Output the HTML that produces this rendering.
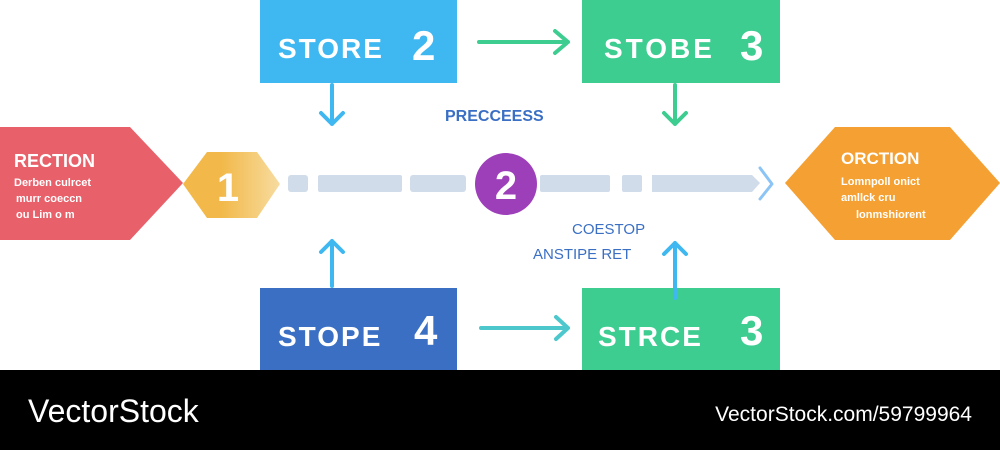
<!DOCTYPE html>
<html><head><meta charset="utf-8"><style>
html,body{margin:0;padding:0;background:#fff;width:1000px;height:450px;overflow:hidden}
svg{display:block}
text{font-family:"Liberation Sans",sans-serif;font-weight:bold}
.n{font-weight:normal}
</style></head><body>
<svg width="1000" height="450" viewBox="0 0 1000 450">
<defs><linearGradient id="yg" x1="0" x2="1"><stop offset="0.4" stop-color="#f2b94a"/><stop offset="1" stop-color="#f7dca0"/></linearGradient></defs>
<rect width="1000" height="450" fill="#fff"/>
<rect x="260" y="0" width="197" height="83" fill="#3fb8f1"/>
<text x="278" y="58" font-size="28" fill="#fff" letter-spacing="2">STORE</text>
<text x="412" y="60" font-size="42" fill="#fff">2</text>
<rect x="582" y="0" width="198" height="83" fill="#3ecd91"/>
<text x="604" y="58" font-size="28" fill="#fff" letter-spacing="3">STOBE</text>
<text x="740" y="60" font-size="42" fill="#fff">3</text>
<rect x="260" y="288" width="197" height="82" fill="#3a6fc4"/>
<text x="278" y="346" font-size="28" fill="#fff" letter-spacing="2">STOPE</text>
<text x="414" y="345" font-size="42" fill="#fff">4</text>
<rect x="582" y="288" width="198" height="82" fill="#3ecd91"/>
<text x="598" y="346" font-size="28" fill="#fff" letter-spacing="2">STRCE</text>
<text x="740" y="345" font-size="42" fill="#fff">3</text>
<g fill="none" stroke-width="4" stroke-linecap="round" stroke-linejoin="round">
<path d="M479 42H568M555 31L568 42L555 53" stroke="#3ecd91"/>
<path d="M481 328H568M556 317L568 328L556 339" stroke="#4cc8cc"/>
<path d="M332 85V124M321 113L332 124L343 113" stroke="#3fb8f1"/>
<path d="M675 85V124M664 113L675 124L686 113" stroke="#3ecd91"/>
<path d="M332 286V241M321 252L332 241L343 252" stroke="#3fb8f1"/>
<path d="M675 298V243M664 254L675 243L686 254" stroke="#3fb8f1"/>
<path d="M760 168L772 184L760 199" stroke="#8cc4f5" stroke-width="3"/>
</g>
<g fill="#d1dcea">
<rect x="288" y="175" width="20" height="17" rx="3"/>
<rect x="318" y="175" width="84" height="17" rx="2"/>
<rect x="410" y="175" width="56" height="17" rx="3"/>
<rect x="540" y="175" width="70" height="17" rx="2"/>
<rect x="622" y="175" width="20" height="17" rx="2"/>
<path d="M652 175H752L760 183L752 192H652Z"/>
</g>
<circle cx="506" cy="184" r="31" fill="#9e3fba"/>
<text x="506" y="199" font-size="40" fill="#fff" text-anchor="middle">2</text>
<polygon points="0,127 130,127 183,183 130,240 0,240" fill="#e8606a"/>
<text x="14" y="167" font-size="18" fill="#fff">RECTION</text>
<text x="14" y="186" font-size="11" fill="#fff">Derben culrcet</text>
<text x="16" y="202" font-size="11" fill="#fff">murr coeccn</text>
<text x="16" y="218" font-size="11" fill="#fff">ou Lim  o  m</text>
<polygon points="183,184 207,152 257,152 280,184 257,218 207,218" fill="url(#yg)"/>
<text x="228" y="201" font-size="40" fill="#fff" text-anchor="middle">1</text>
<polygon points="785,183 835,127 950,127 1000,183 950,240 835,240" fill="#f5a032"/>
<text x="841" y="164" font-size="17" fill="#fff">ORCTION</text>
<text x="841" y="185" font-size="11" fill="#fff">Lomnpoll onict</text>
<text x="841" y="201" font-size="11" fill="#fff">amllck cru</text>
<text x="856" y="218" font-size="11" fill="#fff">lonmshiorent</text>
<text x="445" y="121" font-size="16" fill="#3a6fc4">PRECCEESS</text>
<text class="n" x="572" y="234" font-size="15" fill="#3a6fc4">COESTOP</text>
<text class="n" x="533" y="259" font-size="15" fill="#3a6fc4">ANSTIPE  RET</text>
<rect x="0" y="370" width="1000" height="80" fill="#000"/>
<text class="n" x="28" y="422" font-size="32" fill="#fff">VectorStock</text>
<text class="n" x="972" y="421" font-size="21" fill="#fff" text-anchor="end">VectorStock.com/59799964</text>
</svg>
</body></html>
